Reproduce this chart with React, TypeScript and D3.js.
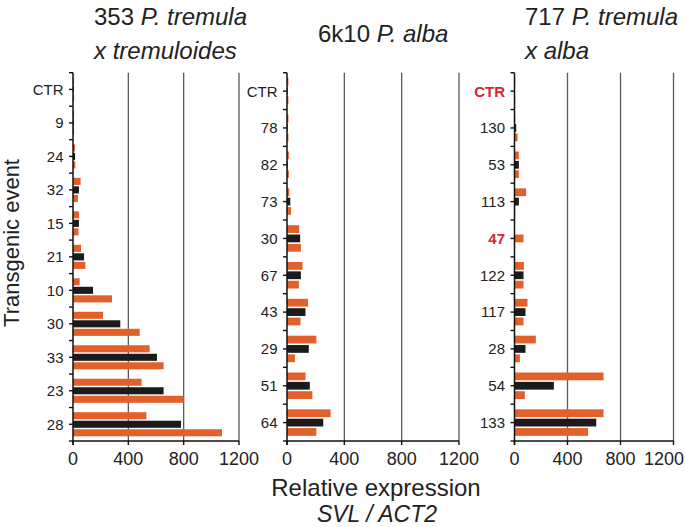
import React from "react";
import * as d3 from "d3";

// ---------- data ----------
const p1Events = ["CTR", "9", "24", "32", "15", "21", "10", "30", "33", "23", "28"];
const p1Orange1 = [8, 8, 15, 55, 43, 58, 48, 217, 554, 496, 530];
const p1Black = [6, 6, 15, 43, 43, 80, 145, 342, 607, 655, 781];
const p1Orange2 = [8, 8, 17, 36, 40, 89, 282, 482, 655, 800, 1077];

const p2Events = ["CTR", "78", "82", "73", "30", "67", "43", "29", "51", "64"];
const p2Orange1 = [10, 10, 13, 16, 85, 108, 147, 205, 129, 304];
const p2Black = [4, 4, 5, 23, 92, 97, 129, 152, 159, 253];
const p2Orange2 = [10, 10, 13, 28, 97, 83, 94, 55, 177, 205];

const p3Events = ["CTR", "130", "53", "113", "47", "122", "117", "28", "54", "133"];
const p3Orange1 = [5, 6, 33, 88, null, 71, 98, 161, 672, 672];
const p3Black = [3, 13, 33, 33, null, 68, 83, 83, 297, 617];
const p3Orange2 = [5, 23, 33, 5, null, 68, 68, 41, 78, 556];
const p3OrangeMid = [null, null, null, null, 68, null, null, null, null, null];
const p3Highlighted = ["CTR", "47"];

const xTicks = [0, 400, 800, 1200];
const xMax = 1200;

const titles = [
  { plain: "353 ", italic: "P. tremula", line2: "x tremuloides" },
  { plain: "6k10 ", italic: "P. alba", line2: "" },
  { plain: "717 ", italic: "P. tremula", line2: "x alba" },
];

// ---------- styles ----------
const W = 685;
const H = 527;
const ORANGE = "#E2602B";
const BLACK = "#1b1b1b";
const RED = "#D22A2E";
const GRID = "#5a5a5a";
const FONT = "'Liberation Sans', Arial, Helvetica, sans-serif";
const TOP = 72.7;
const BOTTOM = 441;

type Series = { values: (number | null)[]; slot: number; color: string };

type PanelDef = {
  events: string[];
  series: Series[];
  xRange: [number, number];
  highlighted: string[];
  title: typeof titles[number];
  titleX: number;
};

const panels: PanelDef[] = [
  {
    events: p1Events,
    series: [
      { values: p1Orange1, slot: 0, color: ORANGE },
      { values: p1Black, slot: 1, color: BLACK },
      { values: p1Orange2, slot: 2, color: ORANGE },
    ],
    xRange: [73, 239],
    highlighted: [],
    title: titles[0],
    titleX: 94,
  },
  {
    events: p2Events,
    series: [
      { values: p2Orange1, slot: 0, color: ORANGE },
      { values: p2Black, slot: 1, color: BLACK },
      { values: p2Orange2, slot: 2, color: ORANGE },
    ],
    xRange: [287, 459],
    highlighted: [],
    title: titles[1],
    titleX: 318,
  },
  {
    events: p3Events,
    series: [
      { values: p3Orange1, slot: 0, color: ORANGE },
      { values: p3Black, slot: 1, color: BLACK },
      { values: p3Orange2, slot: 2, color: ORANGE },
      { values: p3OrangeMid, slot: 1, color: ORANGE },
    ],
    xRange: [514.5, 673.5],
    highlighted: p3Highlighted,
    title: titles[2],
    titleX: 525,
  },
];

function Panel({ def }: { def: PanelDef }) {
  const x = d3.scaleLinear().domain([0, xMax]).range(def.xRange);
  const y = d3.scaleBand<string>().domain(def.events).range([TOP, BOTTOM]).padding(0);
  const bw = y.bandwidth();
  const inner = d3
    .scaleBand<number>()
    .domain([0, 1, 2])
    .range([-bw * 0.36, bw * 0.36])
    .paddingInner(0.17);
  const x0 = x(0);
  const nHalf = def.events.length * 2;
  const yTicks = d3.range(nHalf + 1).map((i) => TOP + (i * (BOTTOM - TOP)) / nHalf);

  return (
    <g>
      {xTicks.slice(1).map((t) => (
        <line key={"g" + t} x1={x(t)} x2={x(t)} y1={TOP} y2={BOTTOM} stroke={GRID} strokeWidth={1.3} />
      ))}
      {def.series.map((s, si) =>
        s.values.map((v, i) => {
          if (v == null) return null;
          const cy = (y(def.events[i]) as number) + bw / 2;
          return (
            <rect
              key={si + "-" + i}
              x={x0}
              y={cy + (inner(s.slot) as number)}
              width={Math.max(0, x(v) - x0)}
              height={inner.bandwidth()}
              fill={s.color}
            />
          );
        })
      )}
      <line x1={x0} x2={x0} y1={TOP} y2={BOTTOM + 4} stroke="#111" strokeWidth={1.5} />
      {yTicks.map((t, i) => (
        <line key={"yt" + i} x1={x0 - 4} x2={x0} y1={t} y2={t} stroke="#111" strokeWidth={1.4} />
      ))}
      <line x1={x0} x2={x(xMax)} y1={BOTTOM} y2={BOTTOM} stroke="#111" strokeWidth={1.5} />
      {xTicks.map((t) => (
        <line key={"xt" + t} x1={x(t)} x2={x(t)} y1={BOTTOM} y2={BOTTOM + 4} stroke="#111" strokeWidth={1.4} />
      ))}
      {xTicks.map((t) => {
        const label = String(t);
        const half = label.length * 0.556 * 18 * 0.5;
        let px = x(t);
        let anchor: "middle" | "end" = "middle";
        if (px + half > W - 1) {
          px = W - 1;
          anchor = "end";
        }
        return (
          <text key={"xl" + t} x={px} y={465} textAnchor={anchor} fontSize={18} fill="#222" fontFamily={FONT}>
            {label}
          </text>
        );
      })}
      {def.events.map((e) => {
        const hl = def.highlighted.includes(e);
        return (
          <text
            key={"c" + e}
            x={x0 - 9.5}
            y={(y(e) as number) + bw / 2}
            dy="0.36em"
            textAnchor="end"
            fontSize={15}
            fontWeight={hl ? "bold" : "normal"}
            fill={hl ? RED : "#222"}
            fontFamily={FONT}
          >
            {e}
          </text>
        );
      })}
      {def.title.line2 ? (
        <>
          <text x={def.titleX} y={25} fontSize={24} fill="#222" fontFamily={FONT}>
            {def.title.plain}
            <tspan fontStyle="italic">{def.title.italic}</tspan>
          </text>
          <text x={def.titleX} y={59} fontSize={24} fill="#222" fontFamily={FONT} fontStyle="italic">
            {def.title.line2}
          </text>
        </>
      ) : (
        <text x={def.titleX} y={42} fontSize={24} fill="#222" fontFamily={FONT}>
          {def.title.plain}
          <tspan fontStyle="italic">{def.title.italic}</tspan>
        </text>
      )}
    </g>
  );
}

export default function App() {
  return (
    <svg
      width={W}
      height={H}
      viewBox={`0 0 ${W} ${H}`}
      style={{ position: "absolute", left: 0, top: 0, background: "#fff", display: "block" }}
    >
      <rect width={W} height={H} fill="#fff" />
      {panels.map((p, i) => (
        <Panel key={i} def={p} />
      ))}
      <text
        transform="translate(18.5,243) rotate(-90)"
        textAnchor="middle"
        fontSize={22}
        fill="#222"
        fontFamily={FONT}
      >
        Transgenic event
      </text>
      <text x={376} y={496} textAnchor="middle" fontSize={24} fill="#222" fontFamily={FONT}>
        Relative expression
      </text>
      <text x={377} y={522} textAnchor="middle" fontSize={23} fill="#222" fontFamily={FONT} fontStyle="italic">
        SVL / ACT2
      </text>
    </svg>
  );
}
